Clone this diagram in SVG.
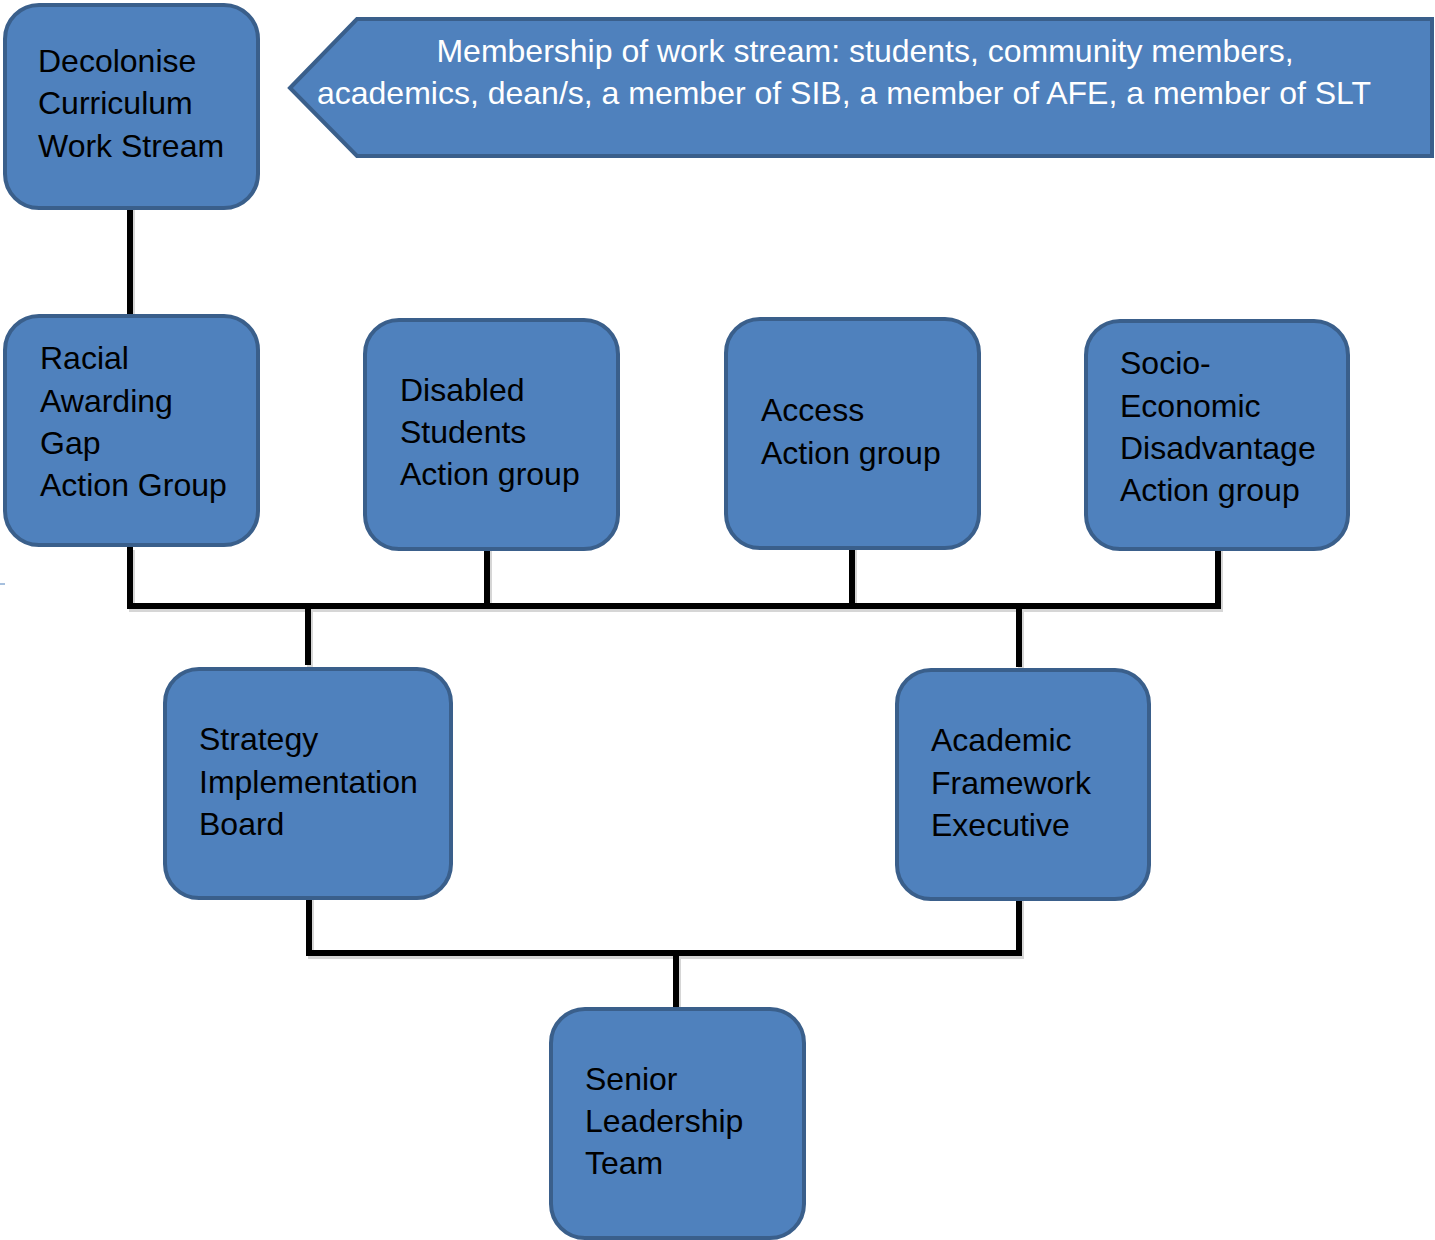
<svg xmlns="http://www.w3.org/2000/svg" width="1435" height="1240" viewBox="0 0 1435 1240">
<style>
.node{fill:#4F81BD;stroke:#3A5F8B;stroke-width:4}
.t{font-family:"Liberation Sans",Arial,sans-serif;font-size:32px;fill:#000}
.bt{font-family:"Liberation Sans",Arial,sans-serif;font-size:32px;fill:#fff;text-anchor:middle}
.c{fill:none;stroke:#000;stroke-width:6;stroke-linecap:square;stroke-linejoin:miter}
.cs{fill:none;stroke:#bbb;stroke-width:6;stroke-linecap:square;opacity:0.6}
</style>
<rect width="1435" height="1240" fill="#fff"/>
<g id="connectors">
<g transform="translate(2,3)">
<path class="cs" d="M130 210V316M130 550V606H1218V550M487 550V606M852 550V606M308 606V662M1019 606V664M309 900V953H1019V900M676 953V1007"/>
</g>
<path class="c" d="M130 210V316M130 550V606H1218V550M487 550V606M852 550V606M308 606V662M1019 606V664M309 900V953H1019V900M676 953V1007"/>
</g>
<line x1="0" y1="584" x2="5" y2="584" stroke="#4F81BD" stroke-width="1"/>
<g id="banner">
<polygon class="node" points="290,88 357,19 1432,19 1432,156 357,156"/>
<text class="bt" x="865" y="62">Membership of work stream: students, community members,</text>
<text class="bt" x="844" y="104">academics, dean/s, a member of SIB, a member of AFE, a member of SLT</text>
</g>
<g id="decolonise">
<rect class="node" x="5" y="5" width="253" height="203" rx="34"/>
<text class="t" x="38" y="72">Decolonise</text>
<text class="t" x="38" y="114">Curriculum</text>
<text class="t" x="38" y="157">Work Stream</text>
</g>
<g id="racial">
<rect class="node" x="5" y="316" width="253" height="229" rx="34"/>
<text class="t" x="40" y="369">Racial</text>
<text class="t" x="40" y="412">Awarding</text>
<text class="t" x="40" y="454">Gap</text>
<text class="t" x="40" y="496">Action Group</text>
</g>
<g id="disabled">
<rect class="node" x="365" y="320" width="253" height="229" rx="34"/>
<text class="t" x="400" y="401">Disabled</text>
<text class="t" x="400" y="443">Students</text>
<text class="t" x="400" y="485">Action group</text>
</g>
<g id="access">
<rect class="node" x="726" y="319" width="253" height="229" rx="34"/>
<text class="t" x="761" y="421">Access</text>
<text class="t" x="761" y="464">Action group</text>
</g>
<g id="socio">
<rect class="node" x="1086" y="321" width="262" height="228" rx="34"/>
<text class="t" x="1120" y="374">Socio-</text>
<text class="t" x="1120" y="417">Economic</text>
<text class="t" x="1120" y="459">Disadvantage</text>
<text class="t" x="1120" y="501">Action group</text>
</g>
<g id="strategy">
<rect class="node" x="165" y="669" width="286" height="229" rx="34"/>
<text class="t" x="199" y="750">Strategy</text>
<text class="t" x="199" y="793">Implementation</text>
<text class="t" x="199" y="835">Board</text>
</g>
<g id="academic">
<rect class="node" x="897" y="670" width="252" height="229" rx="34"/>
<text class="t" x="931" y="751">Academic</text>
<text class="t" x="931" y="794">Framework</text>
<text class="t" x="931" y="836">Executive</text>
</g>
<g id="senior">
<rect class="node" x="551" y="1009" width="253" height="229" rx="34"/>
<text class="t" x="585" y="1090">Senior</text>
<text class="t" x="585" y="1132">Leadership</text>
<text class="t" x="585" y="1174">Team</text>
</g>
</svg>
